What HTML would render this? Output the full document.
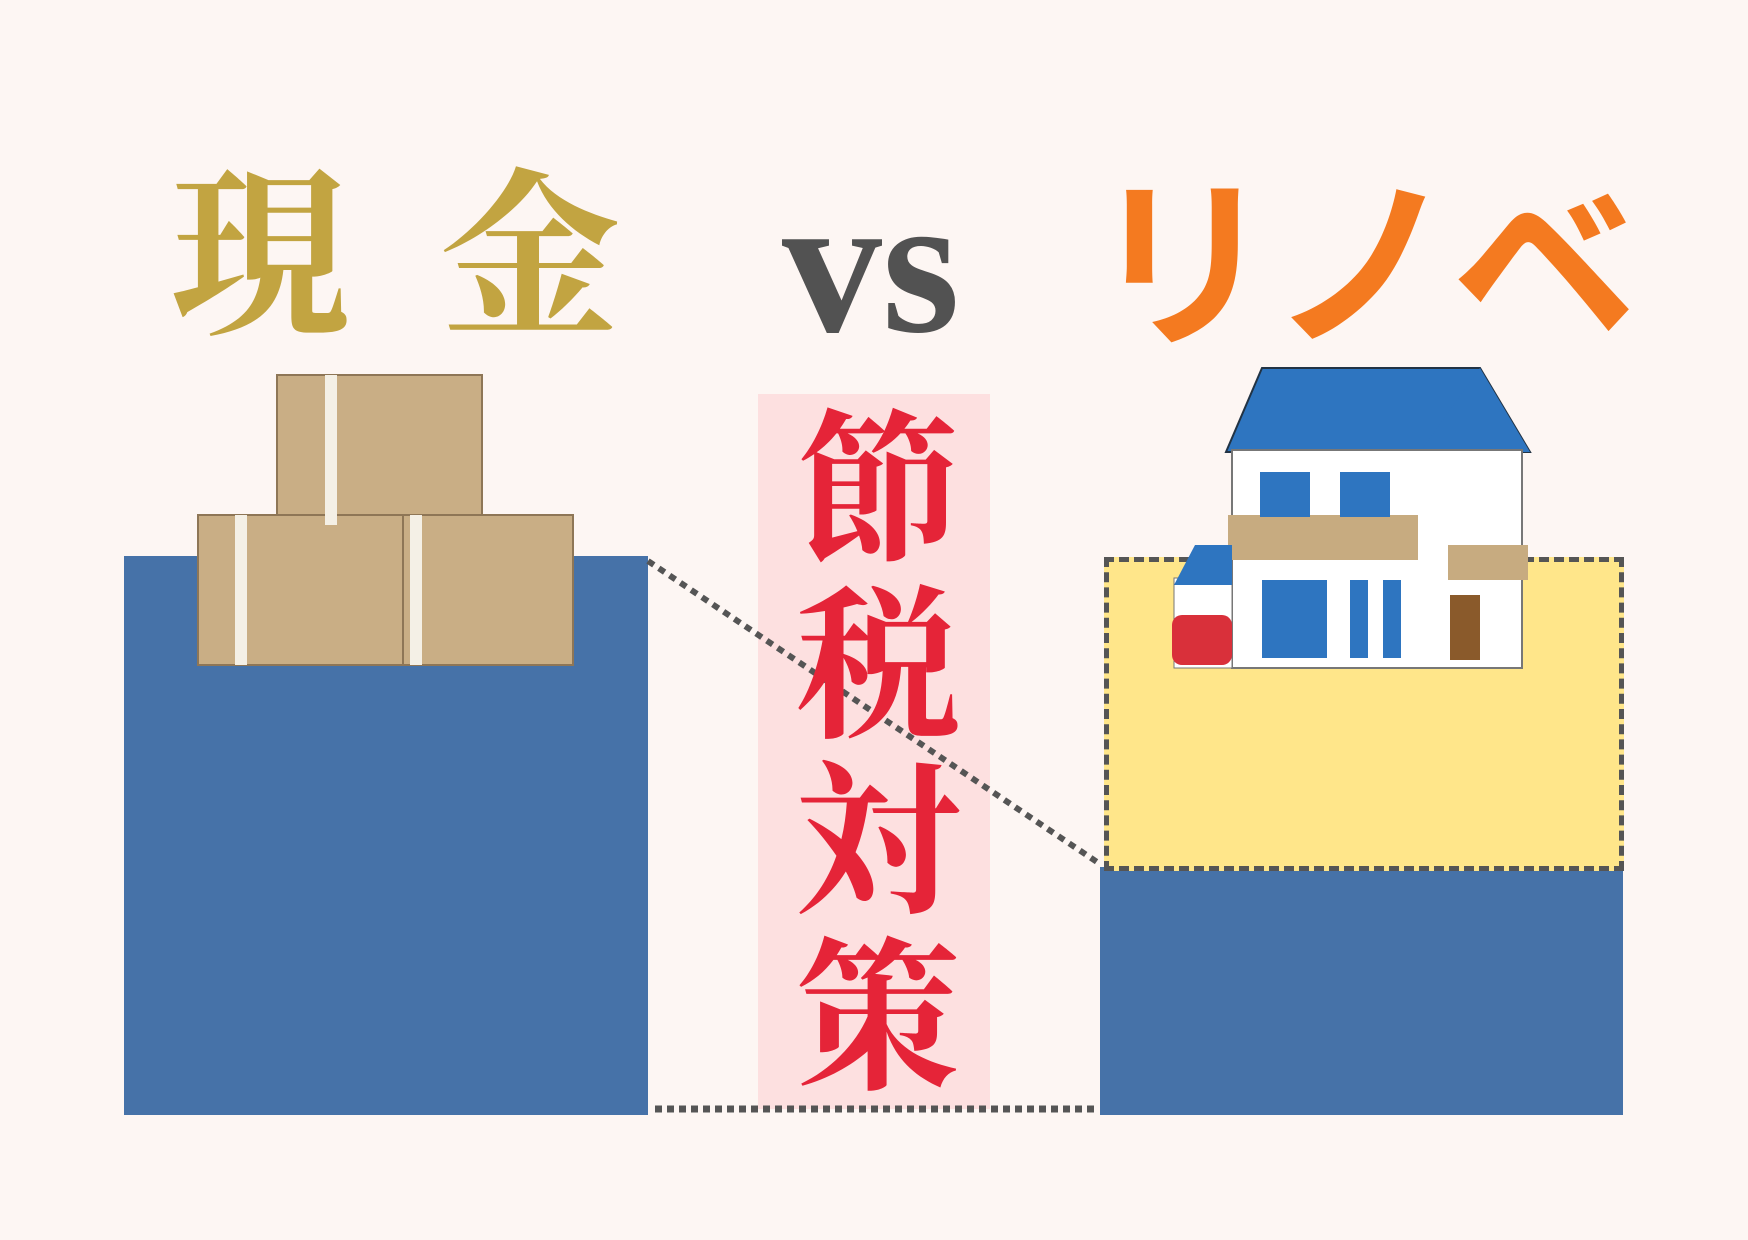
<!DOCTYPE html>
<html><head><meta charset="utf-8"><style>
body{margin:0;width:1748px;height:1240px;background:#fdf6f3;position:relative;overflow:hidden;font-family:"Liberation Serif","Noto Serif CJK SC",serif}
.a{position:absolute}
</style></head><body>
<div class="a" style="left:170px;top:170px;font-size:180px;font-weight:bold;color:#c2a441;line-height:1;letter-spacing:90px">現金</div>
<div class="a" style="left:782px;top:165px;font-size:200px;font-weight:bold;color:#525252;line-height:1">vs</div>
<div class="a" style="left:1090px;top:160px;font-family:'Noto Sans CJK JP',sans-serif;font-weight:bold;font-size:185px;color:#f47a20;line-height:1;letter-spacing:-4px">リノベ</div>
<div class="a" style="left:124px;top:556px;width:524px;height:559px;background:#4672a8"></div>
<div class="a" style="left:1100px;top:867px;width:523px;height:248px;background:#4672a8"></div>
<div class="a" style="left:1104px;top:557px;width:510px;height:304px;background:#ffe68a;border:5px dashed #555"></div>
<div class="a" style="left:758px;top:394px;width:232px;height:715px;background:#fde0e0"></div>
<svg class="a" style="left:0;top:0" width="1748" height="1240">
<line x1="648" y1="561" x2="1100" y2="864" stroke="#555" stroke-width="6" stroke-dasharray="7,6"/>
<line x1="655" y1="1109" x2="1096" y2="1109" stroke="#555" stroke-width="7" stroke-dasharray="7,5"/>
<g fill="#c9ae85" stroke="#8e7656" stroke-width="2">
<rect x="277" y="375" width="205" height="150"/>
<rect x="198" y="515" width="205" height="150"/>
<rect x="403" y="515" width="170" height="150"/>
</g>
<g fill="#f4f0e6"><rect x="325" y="375" width="12" height="150"/><rect x="235" y="515" width="12" height="150"/><rect x="410" y="515" width="12" height="150"/></g>
<polygon points="1262,368 1480,368 1530,452 1226,452" fill="#2e75c0" stroke="#234" stroke-width="2"/>
<polygon points="1420,452 1480,368 1530,452" fill="#2e75c0"/>
<rect x="1232" y="450" width="290" height="218" fill="#fff" stroke="#777" stroke-width="2"/>
<rect x="1228" y="515" width="190" height="45" fill="#c7ab80"/>
<rect x="1448" y="545" width="80" height="35" fill="#c7ab80"/>
<rect x="1260" y="472" width="50" height="45" fill="#2e75c0"/><rect x="1340" y="472" width="50" height="45" fill="#2e75c0"/>
<rect x="1262" y="580" width="65" height="78" fill="#2e75c0"/><rect x="1350" y="580" width="18" height="78" fill="#2e75c0"/><rect x="1383" y="580" width="18" height="78" fill="#2e75c0"/>
<rect x="1450" y="595" width="30" height="65" fill="#8a5a2b"/>
<rect x="1174" y="578" width="58" height="90" fill="#fff" stroke="#777"/>
<polygon points="1174,585 1195,545 1232,545 1232,585" fill="#2e75c0"/>
<rect x="1172" y="615" width="60" height="50" rx="10" fill="#d9303a"/>
</svg>
<div class="a" style="left:793px;top:405px;font-size:165px;font-weight:bold;color:#e52438;line-height:176px;width:170px;text-align:center">節<br>税<br>対<br>策</div>
</body></html>
